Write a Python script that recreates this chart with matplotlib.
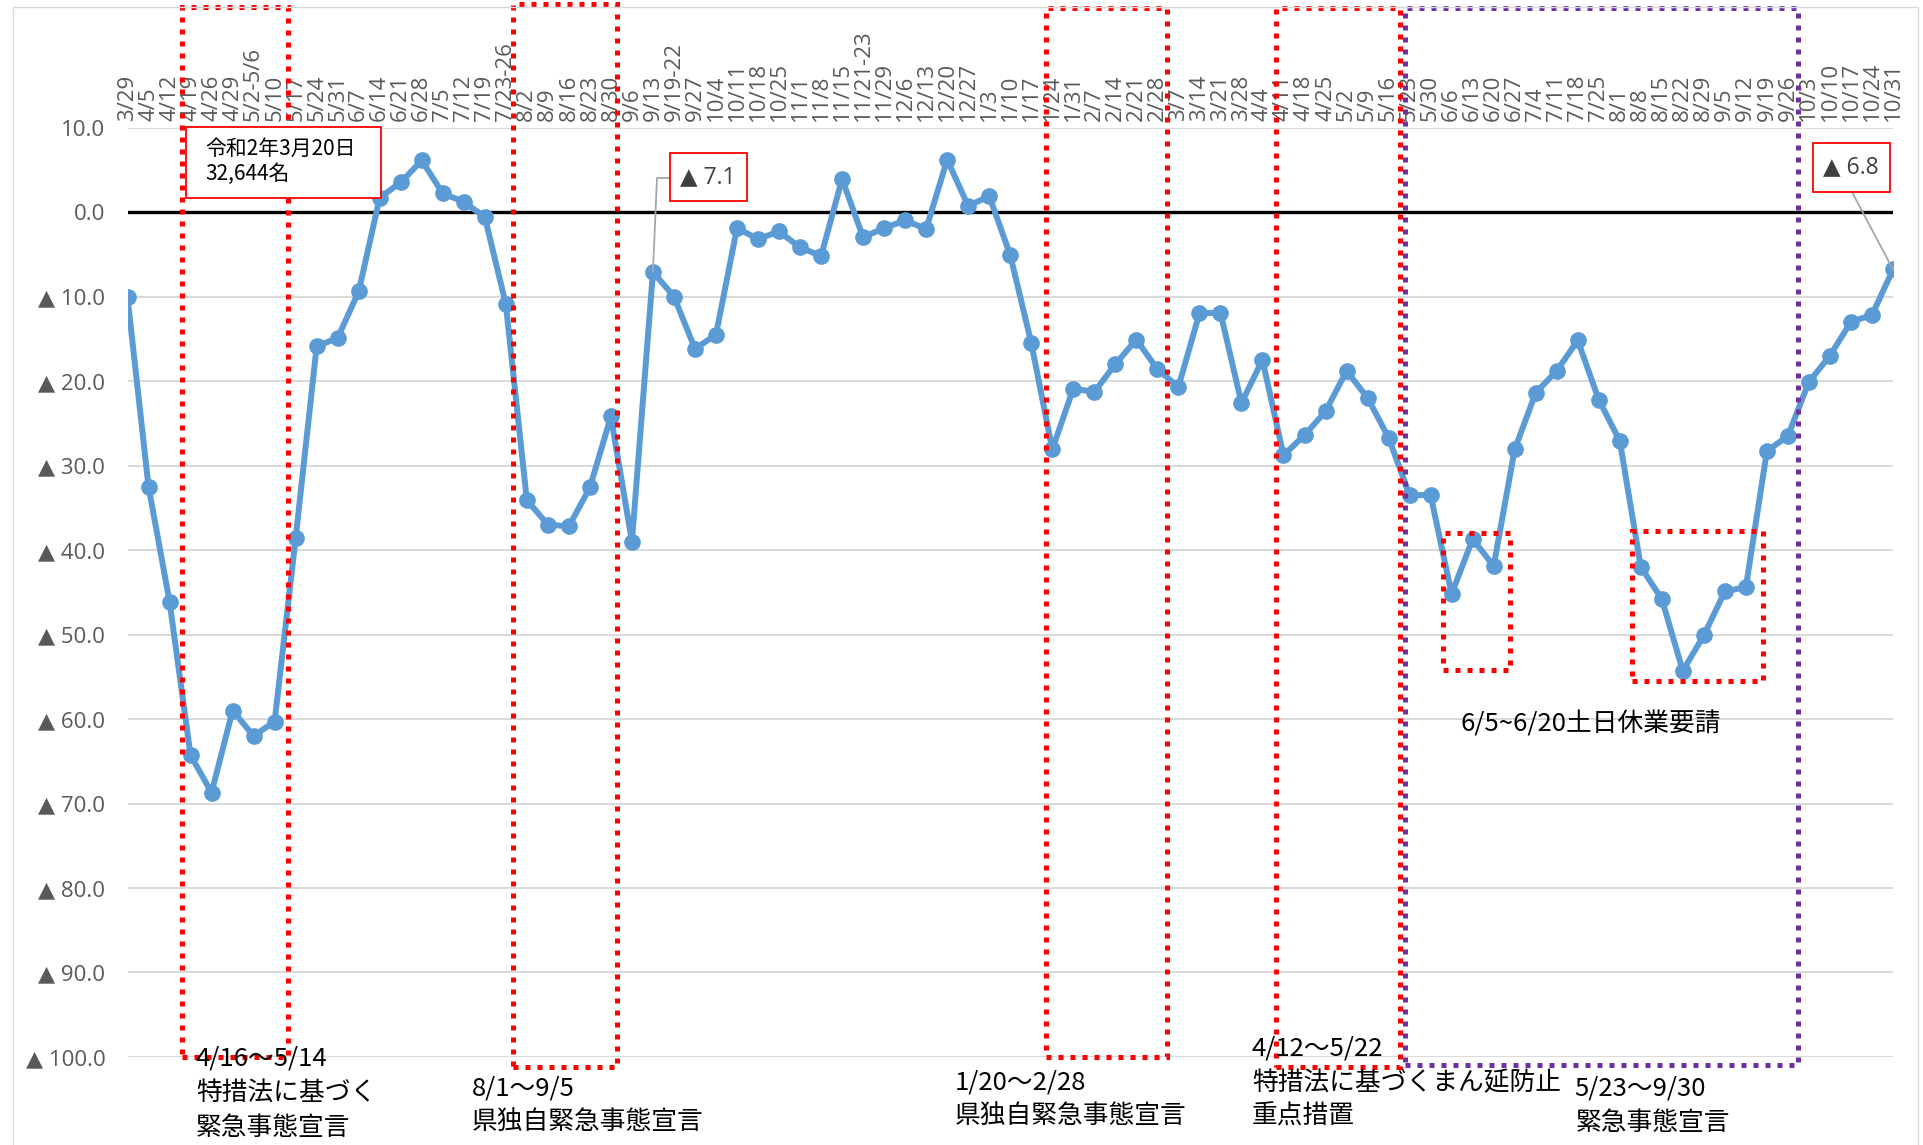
import matplotlib
matplotlib.use('Agg')
import matplotlib.pyplot as plt
from matplotlib.patches import Rectangle
from matplotlib.lines import Line2D
from matplotlib.transforms import IdentityTransform

W, H = 1923, 1145

weeks = ['3/29', '4/5', '4/12', '4/19', '4/26', '4/29', '5/2-5/6', '5/10', '5/17', '5/24',
         '5/31', '6/7', '6/14', '6/21', '6/28', '7/5', '7/12', '7/19', '7/23-26', '8/2',
         '8/9', '8/16', '8/23', '8/30', '9/6', '9/13', '9/19-22', '9/27', '10/4', '10/11',
         '10/18', '10/25', '11/1', '11/8', '11/15', '11/21-23', '11/29', '12/6', '12/13', '12/20',
         '12/27', '1/3', '1/10', '1/17', '1/24', '1/31', '2/7', '2/14', '2/21', '2/28',
         '3/7', '3/14', '3/21', '3/28', '4/4', '4/11', '4/18', '4/25', '5/2', '5/9',
         '5/16', '5/23', '5/30', '6/6', '6/13', '6/20', '6/27', '7/4', '7/11', '7/18',
         '7/25', '8/1', '8/8', '8/15', '8/22', '8/29', '9/5', '9/12', '9/19', '9/26',
         '10/3', '10/10', '10/17', '10/24', '10/31']

# change vs 2020/3/20 (%), negative shown as ▲
change = [-10.1, -32.5, -46.1, -64.3, -68.7, -59.0, -62.0, -60.3, -38.6, -15.9,
          -14.9, -9.4, 1.7, 3.5, 6.1, 2.2, 1.2, -0.6, -10.9, -34.1,
          -37.0, -37.2, -32.6, -24.2, -39.0, -7.1, -10.0, -16.2, -14.5, -1.9,
          -3.2, -2.3, -4.2, -5.2, 3.9, -3.0, -1.9, -1.0, -2.0, 6.2,
          0.7, 1.9, -5.1, -15.5, -28.1, -20.9, -21.3, -18.0, -15.1, -18.6,
          -20.7, -12.0, -11.9, -22.6, -17.5, -28.8, -26.4, -23.6, -18.8, -22.0,
          -26.7, -33.5, -33.5, -45.2, -38.7, -41.9, -28.1, -21.4, -18.8, -15.2,
          -22.2, -27.1, -42.0, -45.8, -54.3, -50.1, -44.9, -44.4, -28.3, -26.5,
          -20.1, -17.0, -13.0, -12.2, -6.8]

yticks = list(range(-100, 11, 10))

# highlighted periods: (x from, x to, y from, y to, colour)
periods = [(2.57, 7.64, -100.0, 24.3, 'red'),
           (18.32, 23.28, -101.2, 24.6, 'red'),
           (43.69, 49.47, -100.0, 24.1, 'red'),
           (54.66, 60.55, -101.2, 24.1, 'red'),
           (60.79, 79.50, -101.0, 24.1, '#7030A0'),
           (62.60, 65.80, -54.2, -38.0, 'red'),
           (71.58, 77.82, -55.5, -37.7, 'red')]

jp = ['Noto Sans CJK JP', 'DejaVu Sans']
num = ['Open Sans', 'DejaVu Sans']
grey = '#595959'


def ylab(v):
    if v < 0:
        return '▲ %.1f' % abs(v)
    return '%.1f' % v


fig = plt.figure(figsize=(W / 100, H / 100), dpi=100)
ax = fig.add_axes([127.5 / W, 1 - 1057 / H, (1893 - 127.5) / W, (1057 - 127.5) / H])

x = list(range(len(weeks)))
ax.plot(x, change, color='#5B9BD5', lw=4.3, marker='o', ms=11, zorder=4)
ax.axhline(0, color='black', lw=2.4, zorder=3)

ax.set_xlim(0, len(weeks) - 1)
ax.set_ylim(-100, 10)
ax.set_yticks(yticks)
ax.set_yticklabels([ylab(v) for v in yticks], fontfamily=num, fontsize=16, color=grey)
ax.set_xticks(x)
ax.set_xticklabels(weeks, fontfamily=num, fontsize=16, color=grey, rotation=90)
ax.xaxis.tick_top()
ax.tick_params(axis='x', length=0, pad=5)
ax.tick_params(axis='y', length=0, pad=16)
ax.grid(axis='y', color='#D9D9D9', lw=1.4, zorder=0)
for s in ax.spines.values():
    s.set_visible(False)

for x0, x1, y0, y1, c in periods:
    ax.add_patch(Rectangle((x0, y0), x1 - x0, y1 - y0, fill=False, ec=c, lw=3.6,
                           ls=(0, (1, 1.4)), clip_on=False, zorder=6))


def fx(px):
    return px / W


def fy(py):
    return 1 - py / H


def box(x0, y0, x1, y1):
    fig.add_artist(Rectangle((fx(x0), fy(y1)), (x1 - x0) / W, (y1 - y0) / H,
                             transform=fig.transFigure, fc='white', ec='red', lw=1.3, zorder=5))


# base value box
box(186, 127, 381, 198)
fig.text(fx(205), fy(149), '令和2年3月20日', fontfamily=jp, fontsize=15, va='center', zorder=7)
fig.text(fx(205), fy(174), '32,644名', fontfamily=jp, fontsize=15, va='center', zorder=7)

# data labels with leaders
p = ax.transData.transform((25, change[25]))
fig.add_artist(Line2D([p[0], 657, 670], [p[1], H - 178, H - 178], transform=IdentityTransform(),
                      color='#A6A6A6', lw=1.3, zorder=5))
box(670, 153, 747, 201)
fig.text(fx(708), fy(177), '▲ %.1f' % abs(change[25]), fontfamily=num, fontsize=16.5,
         color='#404040', ha='center', va='center', zorder=7)

p = ax.transData.transform((84, change[84]))
fig.add_artist(Line2D([p[0], 1852], [p[1], H - 192], transform=IdentityTransform(),
                      color='#A6A6A6', lw=1.3, zorder=5))
box(1813, 143, 1890, 192)
fig.text(fx(1851), fy(167), '▲ %.1f' % abs(change[84]), fontfamily=num, fontsize=16.5,
         color='#404040', ha='center', va='center', zorder=7)

# period notes
notes = [(196, 1059, '4/16～5/14'), (196, 1094, '特措法に基づく'), (196, 1128, '緊急事態宣言'),
         (472, 1088, '8/1～9/5'), (472, 1122, '県独自緊急事態宣言'),
         (955, 1082, '1/20～2/28'), (955, 1116, '県独自緊急事態宣言'),
         (1252, 1049, '4/12～5/22'), (1252, 1083, '特措法に基づくまん延防止'), (1252, 1117, '重点措置'),
         (1574, 1088, '5/23～9/30'), (1576, 1123, '緊急事態宣言'),
         (1460, 724, '6/5~6/20土日休業要請')]
for px, py, t in notes:
    fig.text(fx(px), fy(py), t, fontfamily=jp, fontsize=18.5, va='center', zorder=7)

# chart area frame
fig.add_artist(Rectangle((fx(13), fy(1160)), (1918 - 13) / W, (1160 - 7) / H,
                         transform=fig.transFigure, fill=False, ec='#D9D9D9', lw=1))

fig.savefig('out.png', dpi=100)
